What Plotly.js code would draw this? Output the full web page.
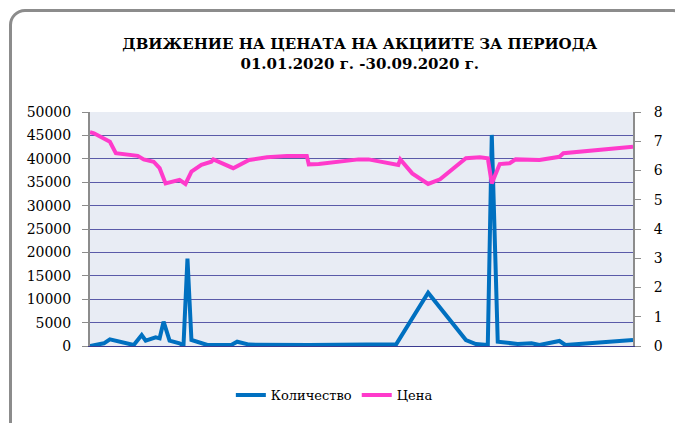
<!DOCTYPE html>
<html>
<head>
<meta charset="utf-8">
<script src="https://cdn.plot.ly/plotly-3.0.1.min.js"></script>
<style>
  html, body { margin: 0; padding: 0; width: 675px; height: 423px; overflow: hidden; background: #ffffff; }
  #frame { position: absolute; left: 9px; top: 9px; width: 680px; height: 430px; border: 3px solid #8c8c8c; border-radius: 16px; box-sizing: border-box; }
  #chart { position: absolute; left: 0; top: 0; width: 675px; height: 423px; }
</style>
</head>
<body>
<div id="frame"></div>
<div id="chart"></div>
<script>
// Price (Цена), right axis
const priceDates = ['2020-01-01','2020-01-03','2020-01-11','2020-01-14','2020-01-25','2020-01-28','2020-02-02','2020-02-05','2020-02-08','2020-02-15','2020-02-18','2020-02-21','2020-02-26','2020-03-02','2020-03-03','2020-03-13','2020-03-21','2020-03-30','2020-04-09','2020-04-19','2020-04-20','2020-04-25','2020-05-15','2020-05-20','2020-06-04','2020-06-05','2020-06-11','2020-06-19','2020-06-25','2020-07-08','2020-07-15','2020-07-19','2020-07-21','2020-07-25','2020-07-30','2020-08-02','2020-08-14','2020-08-24','2020-08-26','2020-09-30'];
const priceValues = [7.31,7.27,6.98,6.59,6.50,6.38,6.30,6.08,5.56,5.68,5.54,5.96,6.19,6.30,6.38,6.08,6.36,6.45,6.50,6.50,6.21,6.22,6.38,6.38,6.19,6.38,5.90,5.54,5.70,6.42,6.45,6.42,5.56,6.22,6.25,6.38,6.36,6.47,6.59,6.81];

// Volume (Количество), left axis
const volumeDates = ['2020-01-01','2020-01-08','2020-01-11','2020-01-16','2020-01-23','2020-01-27','2020-01-29','2020-02-03','2020-02-05','2020-02-07','2020-02-10','2020-02-15','2020-02-17','2020-02-19','2020-02-21','2020-02-29','2020-03-12','2020-03-15','2020-03-21','2020-04-20','2020-05-15','2020-06-03','2020-06-19','2020-07-08','2020-07-13','2020-07-19','2020-07-21','2020-07-24','2020-08-03','2020-08-10','2020-08-14','2020-08-24','2020-08-27','2020-09-30'];
const volumeValues = [0,570,1430,920,210,2350,1140,1850,1640,5200,1140,570,100,18700,1280,210,210,920,300,200,300,400,11400,1280,430,210,45100,920,430,570,210,1070,210,1280];

const titleText = '<b>ДВИЖЕНИЕ НА ЦЕНАТА НА АКЦИИТЕ ЗА ПЕРИОДА</b><br><b>01.01.2020 г. -30.09.2020 г.</b>';
const leftTicks = [0,5000,10000,15000,20000,25000,30000,35000,40000,45000,50000];
const rightTicks = [0,1,2,3,4,5,6,7,8];

const font = 'DejaVu Serif';

const traces = [
  { x: volumeDates, y: volumeValues, name: 'Количество', type: 'scatter', mode: 'lines',
    line: { color: '#0070c0', width: 4 }, yaxis: 'y' },
  { x: priceDates, y: priceValues, name: 'Цена', type: 'scatter', mode: 'lines',
    line: { color: '#ff3acb', width: 4 }, yaxis: 'y2' }
];

const layout = {
  width: 675, height: 423,
  margin: { l: 90, r: 42, t: 112, b: 77 },
  paper_bgcolor: 'rgba(0,0,0,0)',
  plot_bgcolor: '#e8ecf4',
  font: { family: font, size: 14, color: '#000' },
  title: { text: titleText, font: { family: font, size: 15, color: '#000' },
           x: 0.533, xanchor: 'center', y: 0.884, yanchor: 'middle' },
  showlegend: true,
  legend: { orientation: 'h', x: 0.45, xanchor: 'center', y: -0.21, yanchor: 'middle',
            font: { family: font, size: 13 }, bgcolor: 'rgba(0,0,0,0)', itemwidth: 30 },
  xaxis: { type: 'date', range: ['2020-01-01','2020-09-30'], showticklabels: false,
           showgrid: false, zeroline: false, showline: true, linecolor: '#3a3a90', linewidth: 1, ticks: '' },
  yaxis: { range: [0, 50000], tickvals: leftTicks, ticktext: leftTicks.map(String),
           showgrid: true, gridcolor: '#5a5aa8', gridwidth: 1, zeroline: false,
           showline: true, linecolor: '#8c8c8c', linewidth: 2,
           ticks: 'outside', ticklen: 6, tickcolor: '#8c8c8c', tickwidth: 1,
           ticklabelstandoff: 8,
           tickfont: { family: font, size: 14 }, fixedrange: true },
  yaxis2: { range: [0, 8], tickvals: rightTicks, overlaying: 'y', side: 'right',
            showgrid: false, zeroline: false, showline: true, linecolor: '#8c8c8c', linewidth: 2,
            ticks: 'outside', ticklen: 6, tickcolor: '#8c8c8c', tickwidth: 1,
            ticklabelstandoff: 10,
            tickfont: { family: font, size: 14 } }
};

Plotly.newPlot('chart', traces, layout, { displayModeBar: false, staticPlot: true });
</script>
</body>
</html>
